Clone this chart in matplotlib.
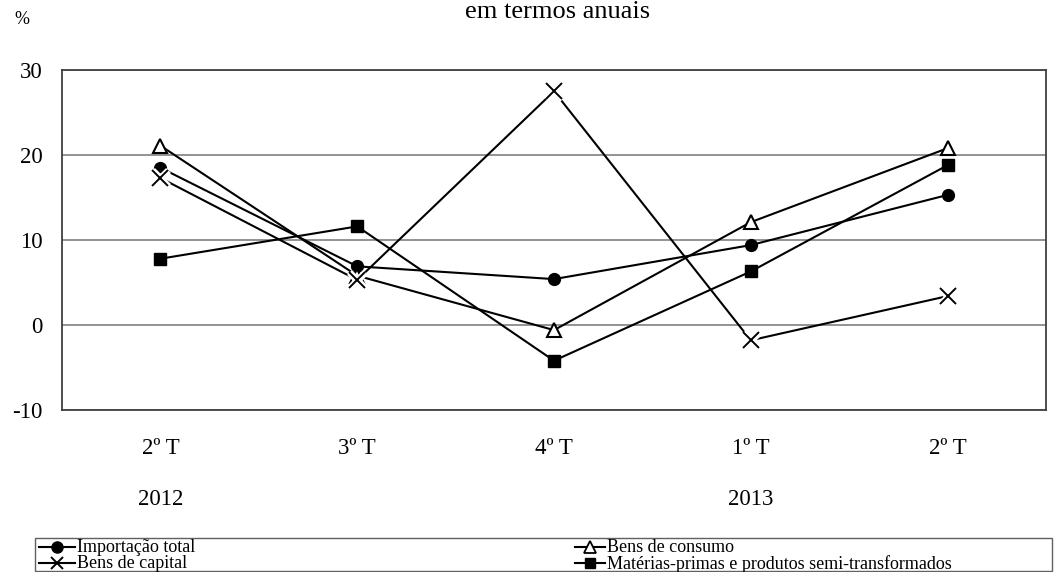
import matplotlib
matplotlib.use("Agg")
import matplotlib.pyplot as plt
from matplotlib.lines import Line2D
from matplotlib.patches import Rectangle

plt.rcParams['font.family'] = ['Liberation Serif', 'DejaVu Serif']

categories = ["2º T", "3º T", "4º T", "1º T", "2º T"]
years = ["2012", "2013"]
year_pos = [0, 3]
importacao_total = [18.5, 6.9, 5.4, 9.4, 15.3]
bens_consumo = [21.1, 5.8, -0.6, 12.1, 20.8]
bens_capital = [17.3, 5.3, 27.5, -1.8, 3.4]
materias_primas = [7.8, 11.6, -4.2, 6.3, 18.8]
yticks = [-10, 0, 10, 20, 30]
series_labels = ["Importação total", "Bens de capital", "Bens de consumo",
                 "Matérias-primas e produtos semi-transformados"]

W, H = 1056, 572
fig = plt.figure(figsize=(W/100, H/100), dpi=100)
ax = fig.add_axes([62/W, 1-410/H, 984/W, 340/H])
x = list(range(len(categories)))

lw = 1.5
ax.plot(x, importacao_total, color='black', lw=lw, marker='o', ms=8.5, mfc='black', mec='black', zorder=3)
ax.plot(x, bens_consumo, color='black', lw=lw, marker='^', ms=10, mfc='white', mec='black', mew=1.5, zorder=3)
ax.plot(x, materias_primas, color='black', lw=lw, marker='s', ms=8, mfc='black', mec='black', zorder=3)
ax.plot(x, bens_capital, color='black', lw=lw, zorder=3)
ax.plot(x, bens_capital, ls='none', marker='x', ms=11, mec='white', mew=5, zorder=4)
ax.plot(x, bens_capital, ls='none', marker='x', ms=11, mec='black', mew=1.4, zorder=5)

fs = 16.5
ax.set_xlim(-0.5, 4.5)
ax.set_ylim(-10, 30)
ax.set_yticks(yticks)
ax.set_yticklabels([str(v) for v in yticks], fontsize=fs)
ax.set_xticks(x)
ax.set_xticklabels(categories, fontsize=fs)
ax.tick_params(axis='both', length=0)
ax.tick_params(axis='x', pad=20)
ax.tick_params(axis='y', pad=14)
ax.grid(axis='y', color='#808080', lw=1.2, zorder=0)
for s in ax.spines.values():
    s.set_color('#404040')
    s.set_linewidth(1.3)

for yr, p in zip(years, year_pos):
    ax.text(p, -20.5, yr, ha='center', va='center', fontsize=fs)

fig.text(22/W, 1-20/H, '%', ha='center', va='center', fontsize=13)
fig.text(558/W, 1-1/H, 'em termos anuais', ha='center', va='top', fontsize=19)

# legend drawn manually in figure pixel coordinates
fig.patches.append(Rectangle((35/W, 1-571/H), 1017/W, 33/H, transform=fig.transFigure,
                             fill=False, edgecolor='#606060', lw=1.0))
styles = [
    dict(marker='o', ms=8, mfc='black', mec='black'),
    dict(marker='x', ms=9, mec='black', mew=1.4),
    dict(marker='^', ms=8.5, mfc='white', mec='black', mew=1.3),
    dict(marker='s', ms=7.5, mfc='black', mec='black'),
]
cols = [(39, 75), (39, 75), (575, 605), (575, 605)]
rows = [547, 563, 547, 563]
lfs = 13
for lab, st, (x0, x1), yy in zip(series_labels, styles, cols, rows):
    fig.add_artist(Line2D([x0/W, x1/W], [1-yy/H, 1-yy/H], transform=fig.transFigure,
                          color='black', lw=lw))
    fig.add_artist(Line2D([(x0+x1)/2/W], [1-yy/H], transform=fig.transFigure,
                          ls='none', **st))
    fig.text((x1+2)/W, 1-(yy+1)/H, lab, ha='left', va='center', fontsize=lfs)

fig.savefig('out.png', dpi=100)
